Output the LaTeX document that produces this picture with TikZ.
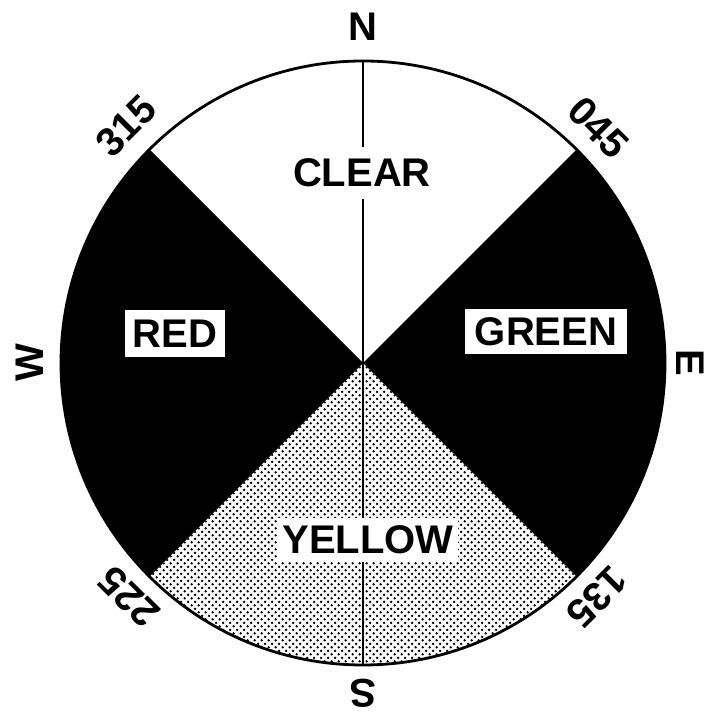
\documentclass[tikz,border=0pt]{standalone}
\usepackage{fontspec}
\setmainfont{Liberation Sans}
\usetikzlibrary{patterns.meta}
\tikzdeclarepattern{
  name=halftone, type=uncolored,
  bottom left={(0pt,0pt)}, top right={(7.4pt,7.4pt)},
  tile size={(7.4pt,7.4pt)},
  code={\fill (1.85pt,1.85pt) circle (1.4pt); \fill (5.55pt,5.55pt) circle (1.4pt);}
}
\begin{document}
\begin{tikzpicture}[x=1pt,y=1pt,
  lbl/.style={font=\fontsize{40}{40}\selectfont\bfseries, inner sep=0pt},
  box/.style={lbl, fill=white},
  rim/.style={line width=2.8pt},
  axis/.style={line width=1.9pt}]
\useasboundingbox (0,0) rectangle (710,712);
\coordinate (c) at (363,349);
\path (c) ++(90:302) coordinate (top);
\path (c) ++(270:302) coordinate (bot);
% sectors
\fill[white] (c) -- ++(45:302) arc (45:135:302) -- cycle;
\fill[black] (c) -- ++(-45:302) arc (-45:45:302) -- cycle;
\fill[black] (c) -- ++(135:302) arc (135:225:302) -- cycle;
\fill[pattern={halftone}, pattern color=black] (c) -- ++(225:302) arc (225:315:302) -- cycle;
\draw[rim] (c) circle (302);
\draw[axis] (top) -- (bot);
% sector labels
\node[box, minimum width=60pt, minimum height=52pt] (clear) at (362,539) {CLEAR};
\node[box, minimum width=100pt, minimum height=47pt] (red) at (175,378.5) {RED};
\node[box, minimum width=162pt, minimum height=45pt] (green) at (546,380.5) {GREEN};
\node[box, minimum width=180pt, minimum height=44pt] (yellow) at (368,172) {YELLOW};
% compass labels
\foreach \a/\r/\t/\n in {90/336/N/ln, 45/333/045/lne, 0/327/E/le, -45/331/135/lse, 270/330/S/ls, 225/331/225/lsw, 180/333/W/lw, 135/335/315/lnw}{
  \path (c) ++(\a:\r) node[lbl, rotate=\a-90] (\n) {\t};
}
\end{tikzpicture}
\end{document}
